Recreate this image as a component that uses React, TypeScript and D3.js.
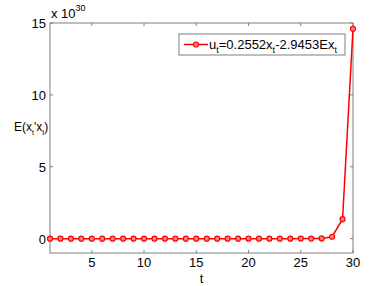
import { useRef, useEffect } from 'react'
import * as d3 from 'd3'

const W = 390
const H = 286
const M = { top: 23, right: 37, bottom: 33, left: 50 }

const tValues = d3.range(1, 31)
const eValues = [
  0, 0, 0, 0, 0, 0, 0, 0, 0, 0, 0, 0, 0, 0, 0, 0, 0, 0, 0, 0, 0, 0, 0, 0, 0.0001, 0.001, 0.012,
  0.13, 1.35, 14.6,
]
const xTicks = [5, 10, 15, 20, 25, 30]
const yTicks = [0, 5, 10, 15]
const RED = '#ff0000'
const FONT = 'Liberation Sans, Arial, sans-serif'

export default function App() {
  const svgRef = useRef<SVGSVGElement>(null)

  useEffect(() => {
    if (!svgRef.current) return
    const svg = d3.select(svgRef.current)
    svg.selectAll('*').remove()

    const iw = W - M.left - M.right
    const ih = H - M.top - M.bottom
    const x = d3.scaleLinear().domain([1, 30]).range([M.left, M.left + iw])
    const y = d3.scaleLinear().domain([-1, 15]).range([M.top + ih, M.top])

    svg.append('rect').attr('width', W).attr('height', H).attr('fill', '#fff')

    // box
    svg
      .append('rect')
      .attr('x', M.left)
      .attr('y', M.top)
      .attr('width', iw)
      .attr('height', ih)
      .attr('fill', 'none')
      .attr('stroke', '#7f7f7f')
      .attr('stroke-width', 1)

    const tickLen = 3
    // x ticks (bottom and top, inward)
    for (const t of xTicks) {
      const px = x(t)
      svg.append('line').attr('x1', px).attr('x2', px).attr('y1', M.top + ih).attr('y2', M.top + ih - tickLen).attr('stroke', '#7f7f7f')
      svg.append('line').attr('x1', px).attr('x2', px).attr('y1', M.top).attr('y2', M.top + tickLen).attr('stroke', '#7f7f7f')
      svg
        .append('text')
        .attr('x', px)
        .attr('y', M.top + ih + 14)
        .attr('text-anchor', 'middle')
        .style('font-family', FONT)
        .style('font-size', '13px')
        .text(t)
    }
    // y ticks (left and right, inward)
    for (const v of yTicks) {
      const py = y(v)
      svg.append('line').attr('x1', M.left).attr('x2', M.left + tickLen).attr('y1', py).attr('y2', py).attr('stroke', '#7f7f7f')
      svg.append('line').attr('x1', M.left + iw).attr('x2', M.left + iw - tickLen).attr('y1', py).attr('y2', py).attr('stroke', '#7f7f7f')
      svg
        .append('text')
        .attr('x', M.left - 4)
        .attr('y', py + 5)
        .attr('text-anchor', 'end')
        .style('font-family', FONT)
        .style('font-size', '13px')
        .text(v)
    }

    // exponent
    const ex = svg
      .append('text')
      .attr('x', M.left + 1)
      .attr('y', M.top - 5)
      .style('font-family', FONT)
      .style('font-size', '13px')
    ex.append('tspan').text('x 10')
    ex.append('tspan').attr('dy', -7).style('font-size', '9px').text('30')

    // axis labels
    svg
      .append('text')
      .attr('x', M.left + iw / 2)
      .attr('y', H - 3)
      .attr('text-anchor', 'middle')
      .style('font-family', FONT)
      .style('font-size', '13px')
      .text('t')

    const yl = svg
      .append('text')
      .attr('x', 14)
      .attr('y', 131)
      .style('font-family', FONT)
      .style('font-size', '12px')
    yl.append('tspan').text('E(x')
    yl.append('tspan').attr('dy', 4).style('font-size', '7px').text('t')
    yl.append('tspan').attr('dy', -4).text("'x")
    yl.append('tspan').attr('dy', 4).style('font-size', '7px').text('t')
    yl.append('tspan').attr('dy', -4).text(')')

    // line
    const data = tValues.map((t, i) => ({ t, v: eValues[i] }))
    const line = d3
      .line<{ t: number; v: number }>()
      .x((d) => x(d.t))
      .y((d) => y(d.v))
    svg.append('path').datum(data).attr('d', line).attr('fill', 'none').attr('stroke', RED).attr('stroke-width', 1.5)
    svg
      .selectAll('circle.pt')
      .data(data)
      .join('circle')
      .attr('class', 'pt')
      .attr('cx', (d) => x(d.t))
      .attr('cy', (d) => y(d.v))
      .attr('r', 2.5)
      .attr('fill', '#ff8080')
      .attr('stroke', RED)
      .attr('stroke-width', 1.2)

    // legend
    const lg = svg.append('g')
    lg.append('rect')
      .attr('x', 179)
      .attr('y', 34)
      .attr('width', 166)
      .attr('height', 21)
      .attr('fill', '#fff')
      .attr('stroke', '#7f7f7f')
    lg.append('line').attr('x1', 184).attr('x2', 208).attr('y1', 44.5).attr('y2', 44.5).attr('stroke', RED).attr('stroke-width', 1.5)
    lg.append('circle').attr('cx', 196).attr('cy', 44.5).attr('r', 2.5).attr('fill', '#ff8080').attr('stroke', RED).attr('stroke-width', 1.2)
    const lt = lg
      .append('text')
      .attr('x', 209)
      .attr('y', 49)
      .style('font-family', FONT)
      .style('font-size', '13px')
    lt.append('tspan').text('u')
    lt.append('tspan').attr('dy', 4).style('font-size', '9px').text('t')
    lt.append('tspan').attr('dy', -4).text('=0.2552x')
    lt.append('tspan').attr('dy', 4).style('font-size', '9px').text('t')
    lt.append('tspan').attr('dy', -4).text('-2.9453Ex')
    lt.append('tspan').attr('dy', 4).style('font-size', '9px').text('t')
  }, [])

  return (
    <svg
      ref={svgRef}
      width={W}
      height={H}
      style={{ position: 'absolute', left: 0, top: 0, display: 'block' }}
    />
  )
}
